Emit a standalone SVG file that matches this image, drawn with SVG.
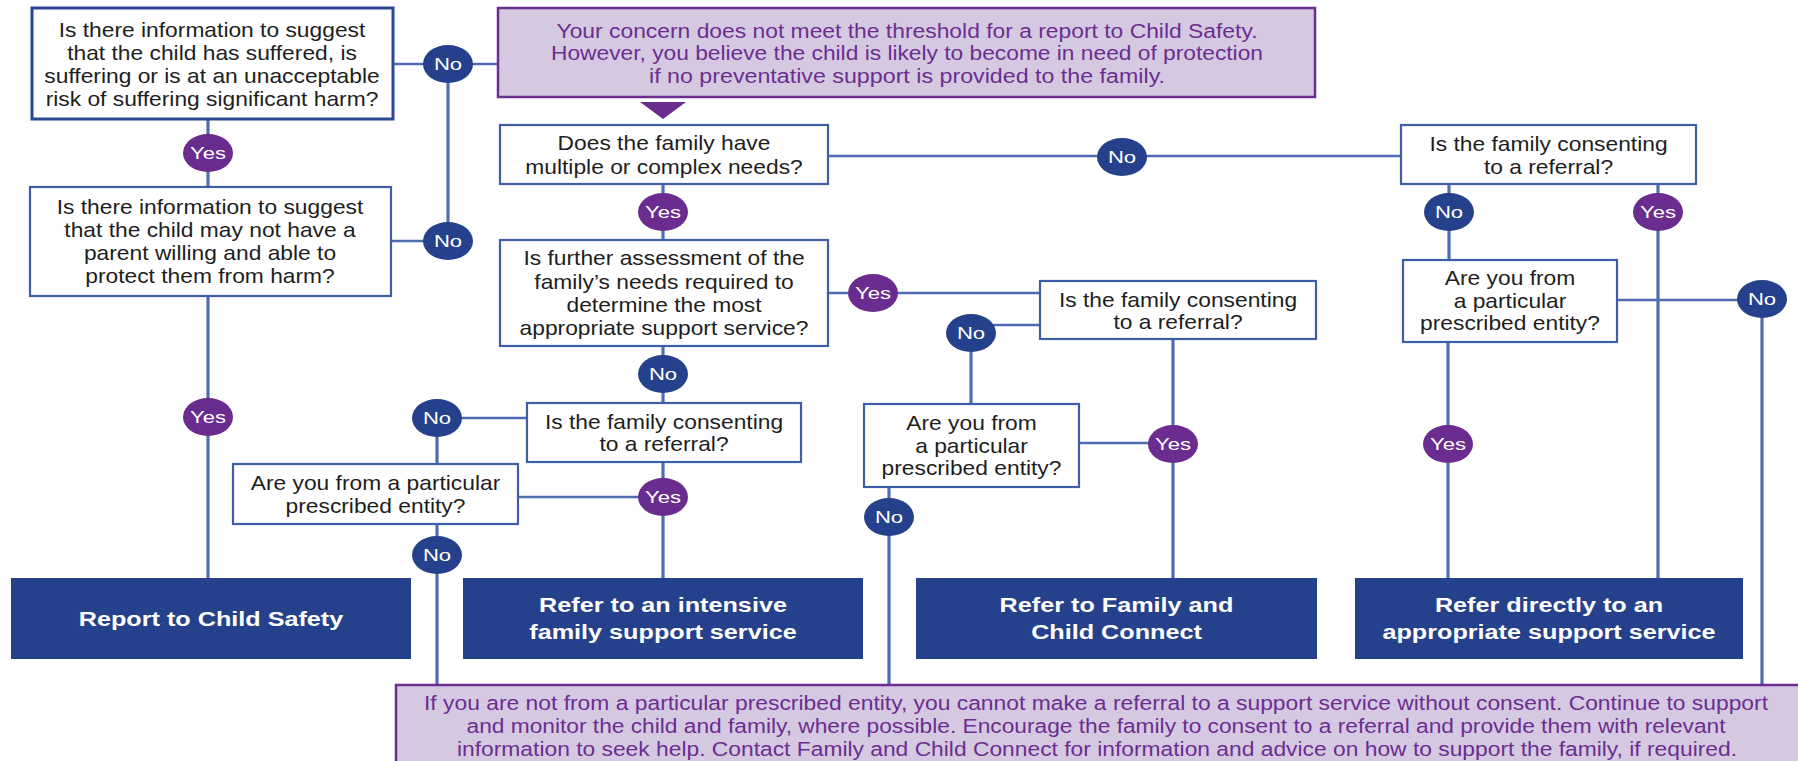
<svg xmlns="http://www.w3.org/2000/svg" width="1798" height="761" viewBox="0 0 1798 761">
<style>
.bg{fill:#ffffff}
.q{fill:#ffffff;stroke:#3f5ea8;stroke-width:2.2}
.q1{fill:#ffffff;stroke:#2b4792;stroke-width:3}
.t{font-family:"Liberation Sans",Arial,sans-serif;font-size:20px;fill:#1e1e1e;text-anchor:middle}
.pt{font-family:"Liberation Sans",Arial,sans-serif;font-size:20px;fill:#6c2d91;text-anchor:middle}
.term{fill:#26418b}
.tt{font-family:"Liberation Sans",Arial,sans-serif;font-size:21px;font-weight:bold;fill:#ffffff;text-anchor:middle}
.no{fill:#26418b}
.yes{fill:#6a2c8e}
.lbl{font-family:"Liberation Sans",Arial,sans-serif;font-size:17px;fill:#ffffff;text-anchor:middle}
.pbox{fill:#d5c9e2;stroke:#6c2d91;stroke-width:2.5}
.h{stroke:#4f6cb3;stroke-width:2.5;fill:none}
.v{stroke:#4f6cb3;stroke-width:3.2;fill:none}
</style>
<rect class="bg" x="0" y="0" width="1798" height="761"/>
<g id="connectors">
<line class="h" x1="393" y1="64" x2="498" y2="64"/>
<line class="h" x1="391" y1="241" x2="448" y2="241"/>
<line class="h" x1="828" y1="156" x2="1401" y2="156"/>
<line class="h" x1="828" y1="293" x2="1040" y2="293"/>
<line class="h" x1="971" y1="325" x2="1040" y2="325"/>
<line class="h" x1="437" y1="418" x2="527" y2="418"/>
<line class="h" x1="518" y1="497" x2="663" y2="497"/>
<line class="h" x1="1079" y1="443" x2="1173" y2="443"/>
<line class="h" x1="1617" y1="300" x2="1762" y2="300"/>
<line class="v" x1="448" y1="64" x2="448" y2="241"/>
<line class="v" x1="208" y1="119" x2="208" y2="187"/>
<line class="v" x1="208" y1="296" x2="208" y2="578"/>
<line class="v" x1="663" y1="184" x2="663" y2="240"/>
<line class="v" x1="663" y1="346" x2="663" y2="403"/>
<line class="v" x1="663" y1="462" x2="663" y2="578"/>
<line class="v" x1="437" y1="418" x2="437" y2="464"/>
<line class="v" x1="437" y1="524" x2="437" y2="686"/>
<line class="v" x1="971" y1="333" x2="971" y2="404"/>
<line class="v" x1="1173" y1="339" x2="1173" y2="578"/>
<line class="v" x1="889" y1="487" x2="889" y2="686"/>
<line class="v" x1="1449" y1="184" x2="1449" y2="260"/>
<line class="v" x1="1658" y1="184" x2="1658" y2="578"/>
<line class="v" x1="1448" y1="342" x2="1448" y2="578"/>
<line class="v" x1="1762" y1="300" x2="1762" y2="686"/>
<polygon points="640,102 686,102 663,119" fill="#6a2c8e"/>
</g>
<g id="q-harm">
<rect class="q1" x="32" y="8" width="361" height="111"/>
<text class="t" transform="translate(212,0) scale(1.14,1)"><tspan x="0" y="37">Is there information to suggest</tspan><tspan x="0" y="60">that the child has suffered, is</tspan><tspan x="0" y="83">suffering or is at an unacceptable</tspan><tspan x="0" y="106">risk of suffering significant harm?</tspan></text>
</g>
<g id="q-parent">
<rect class="q" x="30" y="187" width="361" height="109"/>
<text class="t" transform="translate(210,0) scale(1.14,1)"><tspan x="0" y="214">Is there information to suggest</tspan><tspan x="0" y="237">that the child may not have a</tspan><tspan x="0" y="260">parent willing and able to</tspan><tspan x="0" y="283">protect them from harm?</tspan></text>
</g>
<g id="threshold">
<rect class="pbox" x="498" y="8" width="817" height="89"/>
<text class="pt"><tspan x="907" y="38" textLength="701" lengthAdjust="spacingAndGlyphs">Your concern does not meet the threshold for a report to Child Safety.</tspan><tspan x="907" y="60" textLength="712" lengthAdjust="spacingAndGlyphs">However, you believe the child is likely to become in need of protection</tspan><tspan x="907" y="83" textLength="516" lengthAdjust="spacingAndGlyphs">if no preventative support is provided to the family.</tspan></text>
</g>
<g id="q-complex">
<rect class="q" x="500" y="125" width="328" height="59"/>
<text class="t" transform="translate(664,0) scale(1.14,1)"><tspan x="0" y="150">Does the family have</tspan><tspan x="0" y="174">multiple or complex needs?</tspan></text>
</g>
<g id="q-assessment">
<rect class="q" x="500" y="240" width="328" height="106"/>
<text class="t" transform="translate(664,0) scale(1.14,1)"><tspan x="0" y="265">Is further assessment of the</tspan><tspan x="0" y="289">family’s needs required to</tspan><tspan x="0" y="312">determine the most</tspan><tspan x="0" y="335">appropriate support service?</tspan></text>
</g>
<g id="q-consent-a">
<rect class="q" x="527" y="403" width="274" height="59"/>
<text class="t" transform="translate(664,0) scale(1.14,1)"><tspan x="0" y="429">Is the family consenting</tspan><tspan x="0" y="451">to a referral?</tspan></text>
</g>
<g id="q-entity-a">
<rect class="q" x="233" y="464" width="285" height="60"/>
<text class="t" transform="translate(375.5,0) scale(1.14,1)"><tspan x="0" y="490">Are you from a particular</tspan><tspan x="0" y="513">prescribed entity?</tspan></text>
</g>
<g id="q-consent-b">
<rect class="q" x="1040" y="281" width="276" height="58"/>
<text class="t" transform="translate(1178,0) scale(1.14,1)"><tspan x="0" y="307">Is the family consenting</tspan><tspan x="0" y="329">to a referral?</tspan></text>
</g>
<g id="q-entity-b">
<rect class="q" x="864" y="404" width="215" height="83"/>
<text class="t" transform="translate(971.5,0) scale(1.14,1)"><tspan x="0" y="430">Are you from</tspan><tspan x="0" y="453">a particular</tspan><tspan x="0" y="475">prescribed entity?</tspan></text>
</g>
<g id="q-consent-c">
<rect class="q" x="1401" y="125" width="295" height="59"/>
<text class="t" transform="translate(1548.5,0) scale(1.14,1)"><tspan x="0" y="151">Is the family consenting</tspan><tspan x="0" y="174">to a referral?</tspan></text>
</g>
<g id="q-entity-c">
<rect class="q" x="1403" y="260" width="214" height="82"/>
<text class="t" transform="translate(1510,0) scale(1.14,1)"><tspan x="0" y="285">Are you from</tspan><tspan x="0" y="308">a particular</tspan><tspan x="0" y="330">prescribed entity?</tspan></text>
</g>
<g id="report">
<rect class="term" x="11" y="578" width="400" height="81"/>
<text class="tt" transform="translate(211,0) scale(1.2,1)" x="0" y="626">Report to Child Safety</text>
</g>
<g id="intensive">
<rect class="term" x="463" y="578" width="400" height="81"/>
<text class="tt" transform="translate(663,0) scale(1.2,1)"><tspan x="0" y="612">Refer to an intensive</tspan><tspan x="0" y="639">family support service</tspan></text>
</g>
<g id="fcc">
<rect class="term" x="916" y="578" width="401" height="81"/>
<text class="tt" transform="translate(1116.5,0) scale(1.2,1)"><tspan x="0" y="612">Refer to Family and</tspan><tspan x="0" y="639">Child Connect</tspan></text>
</g>
<g id="direct">
<rect class="term" x="1355" y="578" width="388" height="81"/>
<text class="tt" transform="translate(1549,0) scale(1.2,1)"><tspan x="0" y="612">Refer directly to an</tspan><tspan x="0" y="639">appropriate support service</tspan></text>
</g>
<g id="no-consent-note">
<rect class="pbox" x="396" y="685" width="1420" height="100"/>
<text class="pt"><tspan x="1096" y="710" textLength="1344" lengthAdjust="spacingAndGlyphs">If you are not from a particular prescribed entity, you cannot make a referral to a support service without consent. Continue to support</tspan><tspan x="1096" y="733" textLength="1259" lengthAdjust="spacingAndGlyphs">and monitor the child and family, where possible. Encourage the family to consent to a referral and provide them with relevant</tspan><tspan x="1097" y="756" textLength="1280" lengthAdjust="spacingAndGlyphs">information to seek help. Contact Family and Child Connect for information and advice on how to support the family, if required.</tspan></text>
</g>
<g id="no1"><ellipse class="no" cx="448" cy="64" rx="25" ry="19"/><text class="lbl" transform="translate(448,0) scale(1.3,1)" x="0" y="70">No</text></g>
<g id="no2"><ellipse class="no" cx="448" cy="241" rx="25" ry="19"/><text class="lbl" transform="translate(448,0) scale(1.3,1)" x="0" y="247">No</text></g>
<g id="yes1"><ellipse class="yes" cx="208" cy="153" rx="25" ry="19"/><text class="lbl" transform="translate(208,0) scale(1.3,1)" x="0" y="159">Yes</text></g>
<g id="yes7"><ellipse class="yes" cx="208" cy="417" rx="25" ry="19"/><text class="lbl" transform="translate(208,0) scale(1.3,1)" x="0" y="423">Yes</text></g>
<g id="no9"><ellipse class="no" cx="437" cy="418" rx="25" ry="19"/><text class="lbl" transform="translate(437,0) scale(1.3,1)" x="0" y="424">No</text></g>
<g id="no10"><ellipse class="no" cx="437" cy="555" rx="25" ry="19"/><text class="lbl" transform="translate(437,0) scale(1.3,1)" x="0" y="561">No</text></g>
<g id="yes2"><ellipse class="yes" cx="663" cy="212" rx="25" ry="19"/><text class="lbl" transform="translate(663,0) scale(1.3,1)" x="0" y="218">Yes</text></g>
<g id="no3"><ellipse class="no" cx="663" cy="374" rx="25" ry="19"/><text class="lbl" transform="translate(663,0) scale(1.3,1)" x="0" y="380">No</text></g>
<g id="yes8"><ellipse class="yes" cx="663" cy="497" rx="25" ry="19"/><text class="lbl" transform="translate(663,0) scale(1.3,1)" x="0" y="503">Yes</text></g>
<g id="yes3"><ellipse class="yes" cx="873" cy="293" rx="25" ry="19"/><text class="lbl" transform="translate(873,0) scale(1.3,1)" x="0" y="299">Yes</text></g>
<g id="no4"><ellipse class="no" cx="971" cy="333" rx="25" ry="19"/><text class="lbl" transform="translate(971,0) scale(1.3,1)" x="0" y="339">No</text></g>
<g id="no5"><ellipse class="no" cx="1122" cy="157" rx="25" ry="19"/><text class="lbl" transform="translate(1122,0) scale(1.3,1)" x="0" y="163">No</text></g>
<g id="no8"><ellipse class="no" cx="889" cy="517" rx="25" ry="19"/><text class="lbl" transform="translate(889,0) scale(1.3,1)" x="0" y="523">No</text></g>
<g id="yes6"><ellipse class="yes" cx="1173" cy="444" rx="25" ry="19"/><text class="lbl" transform="translate(1173,0) scale(1.3,1)" x="0" y="450">Yes</text></g>
<g id="no6"><ellipse class="no" cx="1449" cy="212" rx="25" ry="19"/><text class="lbl" transform="translate(1449,0) scale(1.3,1)" x="0" y="218">No</text></g>
<g id="yes4"><ellipse class="yes" cx="1658" cy="212" rx="25" ry="19"/><text class="lbl" transform="translate(1658,0) scale(1.3,1)" x="0" y="218">Yes</text></g>
<g id="no7"><ellipse class="no" cx="1762" cy="299" rx="25" ry="19"/><text class="lbl" transform="translate(1762,0) scale(1.3,1)" x="0" y="305">No</text></g>
<g id="yes5"><ellipse class="yes" cx="1448" cy="444" rx="25" ry="19"/><text class="lbl" transform="translate(1448,0) scale(1.3,1)" x="0" y="450">Yes</text></g>
</svg>
